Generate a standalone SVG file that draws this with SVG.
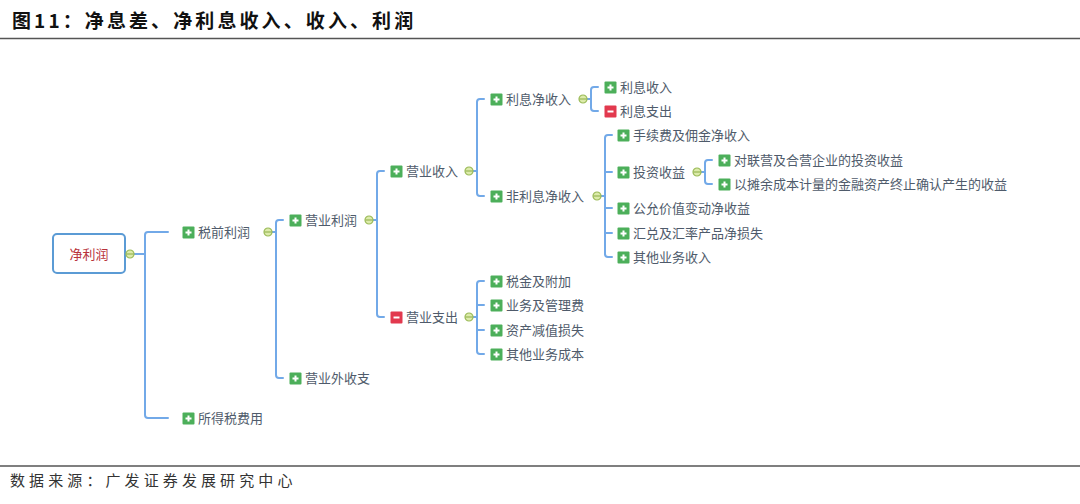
<svg xmlns="http://www.w3.org/2000/svg" xmlns:xlink="http://www.w3.org/1999/xlink" width="1080" height="504" viewBox="0 0 1080 504">
<style>
.t{font-family:"Noto Sans CJK SC","Noto Sans",sans-serif;font-size:13px;fill:#4f5b6b}
.ln{fill:none;stroke:#72a9e8;stroke-width:2;stroke-linecap:round}
.title{font-family:"Noto Sans CJK SC","Noto Sans",sans-serif;font-size:19px;font-weight:700;fill:#111;letter-spacing:3.1px}
.foot{font-family:"Noto Sans CJK SC","Noto Sans",sans-serif;font-size:15px;fill:#333;letter-spacing:4.1px}
.rule{stroke:#555;stroke-width:1.5}
</style>
<defs>
<g id="plus"><rect x="-0.5" y="-0.5" width="12" height="12" rx="1" fill="#4caf5a"/><path d="M2.5 5.5H8.5M5.5 2.5V8.5" stroke="#fff" stroke-width="2"/></g>
<g id="minus"><rect x="-0.5" y="-0.5" width="12" height="12" rx="1" fill="#e2394e"/><path d="M2.5 5.5H8.5" stroke="#fff" stroke-width="2"/></g>
<g id="col"><circle cx="0" cy="0" r="4" fill="#dcebaa" stroke="#9bbb59" stroke-width="1.2"/><path d="M-3.5 0H3.5" stroke="#8aab45" stroke-width="1"/></g>
</defs>
<rect width="1080" height="504" fill="#fff"/>
<text class="title" x="12" y="28">图11：净息差、净利息收入、收入、利润</text>
<line class="rule" x1="0" y1="38.5" x2="1080" y2="38.5"/>
<line class="rule" x1="0" y1="466" x2="1080" y2="466"/>
<text class="foot" x="10" y="486">数据来源：广发证券发展研究中心</text>

<g id="connectors">
<path class="ln" d="M134 254H145M168 232H148Q145 232 145 235V415Q145 418 148 418H168"/>
<path class="ln" d="M272 232H276M283 220H279Q276 220 276 223V375Q276 378 279 378H283"/>
<path class="ln" d="M373 220H377M384 171H380Q377 171 377 174V314Q377 317 380 317H384"/>
<path class="ln" d="M473 171H477M484 99H480Q477 99 477 102V193Q477 196 480 196H484"/>
<path class="ln" d="M587 99H591M598 87H594Q591 87 591 90V108Q591 111 594 111H598"/>
<path class="ln" d="M601 196H605M612 135H608Q605 135 605 138V254Q605 257 608 257H612M605 172H612M605 208H612M605 233H612"/>
<path class="ln" d="M701 172H705M712 160H708Q705 160 705 163V181Q705 184 708 184H712"/>
<path class="ln" d="M473 317H477M484 281H480Q477 281 477 284V351Q477 354 480 354H484M477 305H484M477 330H484"/>
</g>

<g id="root">
<rect x="53" y="234" width="72" height="39" rx="4" fill="#fff" stroke="#5b9bd5" stroke-width="2"/>
<text x="89" y="258.5" text-anchor="middle" font-family="Noto Sans CJK SC, sans-serif" font-size="13" fill="#b8323a">净利润</text>
<use xlink:href="#col" x="130" y="254"/>
</g>
<g id="n-shuiqian"><use xlink:href="#plus" x="183" y="227"/><text class="t" x="198" y="237">税前利润</text><use xlink:href="#col" x="268" y="232"/></g>
<g id="n-suodeshui"><use xlink:href="#plus" x="183" y="413"/><text class="t" x="198" y="423">所得税费用</text></g>
<g id="n-yingyelirun"><use xlink:href="#plus" x="290" y="215"/><text class="t" x="305" y="225">营业利润</text><use xlink:href="#col" x="369" y="220"/></g>
<g id="n-yingyewai"><use xlink:href="#plus" x="290" y="373"/><text class="t" x="305" y="383">营业外收支</text></g>
<g id="n-yingyeshouru"><use xlink:href="#plus" x="391" y="166"/><text class="t" x="406" y="176">营业收入</text><use xlink:href="#col" x="469" y="171"/></g>
<g id="n-yingyezhichu"><use xlink:href="#minus" x="391" y="312"/><text class="t" x="406" y="322">营业支出</text><use xlink:href="#col" x="469" y="317"/></g>
<g id="n-lixijing"><use xlink:href="#plus" x="491" y="94"/><text class="t" x="506" y="104">利息净收入</text><use xlink:href="#col" x="583" y="99"/></g>
<g id="n-feilixi"><use xlink:href="#plus" x="491" y="191"/><text class="t" x="506" y="201">非利息净收入</text><use xlink:href="#col" x="597" y="196"/></g>
<g id="n-lixishouru"><use xlink:href="#plus" x="605" y="82"/><text class="t" x="620" y="92">利息收入</text></g>
<g id="n-lixizhichu"><use xlink:href="#minus" x="605" y="106"/><text class="t" x="620" y="116">利息支出</text></g>
<g id="n-shouxufei"><use xlink:href="#plus" x="618" y="130"/><text class="t" x="633" y="140">手续费及佣金净收入</text></g>
<g id="n-touzi"><use xlink:href="#plus" x="618" y="167"/><text class="t" x="633" y="177">投资收益</text><use xlink:href="#col" x="697" y="172"/></g>
<g id="n-gongyun"><use xlink:href="#plus" x="618" y="203"/><text class="t" x="633" y="213">公允价值变动净收益</text></g>
<g id="n-huidui"><use xlink:href="#plus" x="618" y="228"/><text class="t" x="633" y="238">汇兑及汇率产品净损失</text></g>
<g id="n-qitashouru"><use xlink:href="#plus" x="618" y="252"/><text class="t" x="633" y="262">其他业务收入</text></g>
<g id="n-lianying"><use xlink:href="#plus" x="719" y="155"/><text class="t" x="734" y="165">对联营及合营企业的投资收益</text></g>
<g id="n-tanyu"><use xlink:href="#plus" x="719" y="179"/><text class="t" x="734" y="189">以摊余成本计量的金融资产终止确认产生的收益</text></g>
<g id="n-shuijin"><use xlink:href="#plus" x="491" y="276"/><text class="t" x="506" y="286">税金及附加</text></g>
<g id="n-yewu"><use xlink:href="#plus" x="491" y="300"/><text class="t" x="506" y="310">业务及管理费</text></g>
<g id="n-zichan"><use xlink:href="#plus" x="491" y="325"/><text class="t" x="506" y="335">资产减值损失</text></g>
<g id="n-qitachengben"><use xlink:href="#plus" x="491" y="349"/><text class="t" x="506" y="359">其他业务成本</text></g>
</svg>
